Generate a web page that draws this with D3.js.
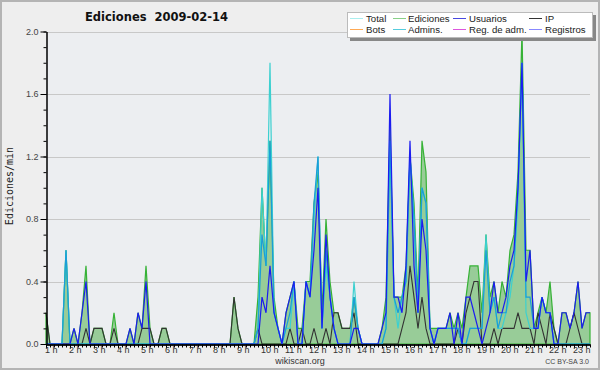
<!DOCTYPE html>
<html lang="es">
<head>
<meta charset="UTF-8">
<title>Ediciones 2009-02-14</title>
<script src="https://cdn.jsdelivr.net/npm/d3@7"></script>
<style>
	body { margin:0; background:#fff; }
	svg { display:block; }
</style>
</head>
<body>
<svg width="600" height="370"></svg>
<script>
// etiquetas de horas (una cada 6 puntos de 10 min)
var horas = ["1 h","2 h","3 h","4 h","5 h","6 h","7 h","8 h","9 h","10 h","11 h","12 h",
	"13 h","14 h","15 h","16 h","17 h","18 h","19 h","20 h","21 h","22 h","23 h"];
var yTicks = [0, 0.4, 0.8, 1.2, 1.6, 2.0];

// ediciones/min cada 10 minutos
var ediciones = [
	.2,0,0,0,0,.6,0,.1,0,.2,.5,0,
	.1,.1,.1,0,0,.2,0,0,0,.1,0,.2,
	.1,.5,.1,0,0,.1,.1,0,0,0,0,0,
	0,0,0,0,0,0,0,0,0,0,0,.3,
	.1,0,0,0,0,.3,1.0,.5,1.3,.3,.1,0,
	.2,.3,.4,.1,.1,.4,.4,.9,1.1,.2,.8,.4,
	.2,.2,.1,.1,.1,.3,.1,0,0,0,0,0,
	.1,.3,1.4,.3,.3,.3,.5,1.2,.9,.3,1.3,1.1,
	.1,.1,.1,.1,.1,.2,.1,.2,.1,.3,.5,.5,
	.5,.2,.7,.3,.4,.2,.4,.3,.6,.7,1.1,2.0,
	.6,.6,.1,.2,.3,.2,.4,.1,0,.2,.2,.1,
	.2,.4,.1,.2,.2
];
var total = [
	0,0,0,0,0,.6,0,0,0,0,0,0,
	0,0,0,0,0,0,0,0,0,0,0,0,
	0,0,0,0,0,0,0,0,0,0,0,0,
	0,0,0,0,0,0,0,0,0,0,0,0,
	0,0,0,0,0,.1,1.0,.5,1.8,.2,.1,0,
	.1,.1,.4,0,0,.4,.3,.8,1.2,.1,.5,.3,
	.1,0,0,0,0,.4,.1,0,0,0,0,0,
	0,.1,1.3,.3,.1,.3,.4,1.2,.8,.2,1.0,.9,
	.1,0,.1,.1,.1,.1,.1,.1,0,0,.1,.1,
	.1,.1,.7,.2,.3,.1,.1,.2,.3,.5,.9,1.8,
	.2,.1,.1,.1,.3,.2,.2,0,0,0,0,0,
	0,0,0,0,0
];
var admins = [
	0,0,0,0,0,.6,0,0,0,0,0,0,
	0,0,0,0,0,0,0,0,0,0,0,0,
	0,0,0,0,0,0,0,0,0,0,0,0,
	0,0,0,0,0,0,0,0,0,0,0,0,
	0,0,0,0,0,.1,.7,.5,1.3,.2,.1,0,
	.1,.2,.4,0,0,.4,.3,.9,1.2,.1,.6,.3,
	.1,0,0,0,0,.3,.1,0,0,0,0,0,
	0,.1,1.3,.3,.2,.3,.4,1.2,.8,.2,1.0,.9,
	.1,0,.1,.1,.1,.1,.1,.1,0,0,.1,.1,
	.1,.1,.6,.2,.3,.1,.2,.2,.4,.5,1.0,1.8,
	.3,.3,.1,.1,.3,.2,.2,0,0,0,0,0,
	0,0,0,0,0
];
var usuarios = [
	0,0,0,0,0,0,0,.1,0,.2,.4,0,
	0,0,0,0,0,0,0,0,0,.1,0,.2,
	.1,.4,0,0,0,0,0,0,0,0,0,0,
	0,0,0,0,0,0,0,0,0,0,0,0,
	0,0,0,0,0,0,.3,.2,.5,.2,.1,0,
	.2,.3,.4,0,0,.4,.3,.6,1.0,.1,.7,.3,
	.1,0,0,0,0,.1,.1,0,0,0,0,0,
	.1,.2,1.6,.3,.3,.2,.5,1.3,.5,.2,.8,.6,
	.1,0,.1,.1,.1,.2,0,.2,0,.3,.3,.2,
	.1,0,.1,.2,.4,.2,.2,.3,.5,.6,1.0,1.8,
	.4,.6,.1,.1,.3,.2,.2,0,0,.2,.2,.1,
	.2,.4,.1,.2,.2
];
var ip = [
	.2,0,0,0,0,0,0,0,0,0,.1,0,
	.1,.1,.1,0,0,.1,0,0,0,0,0,0,
	.1,.1,.1,0,0,.1,.1,0,0,0,0,0,
	0,0,0,0,0,0,0,0,0,0,0,.3,
	.1,0,0,0,0,.1,0,0,0,0,0,0,
	0,.1,0,0,.1,0,0,.1,0,0,.1,0,
	.2,.2,.1,.1,.1,.2,0,0,0,0,0,0,
	0,0,0,0,0,.1,.2,.5,.3,.1,.3,.1,
	0,0,0,0,0,0,0,.1,0,.2,.3,.4,
	.4,0,0,0,.1,0,.1,.1,.1,.1,.2,.1,
	.1,.1,0,.2,.1,0,.2,.1,0,0,0,.1,
	.2,.1,0,0,0
];

var leyenda = ["Total","Ediciones","Usuarios","IP","Bots","Admins.","Reg. de adm.","Registros"];
var leyendaColores = ["#aaeeee","#88d088","#4848e0","#333333","#ffaa55","#55ccdd","#dd55dd","#8888ff"];

var svg = d3.select("svg");

// fondo y marco
svg.append("rect").attr("width",600).attr("height",370).attr("fill","#eeeeee");
svg.append("rect").attr("x",1).attr("y",1).attr("width",598).attr("height",368)
	.attr("fill","none").attr("stroke","#b4b4b4").attr("stroke-width",2);

var x = d3.scaleLinear().domain([0, ediciones.length - 1]).range([46, 590]);
var y = d3.scaleLinear().domain([0, 2]).range([344, 31.5]);

svg.append("rect").attr("x",46).attr("y",31.5).attr("width",544).attr("height",312.5).attr("fill","#eceef1");

// rejilla
svg.append("g").selectAll("line").data(yTicks.slice(1)).enter().append("line")
	.attr("x1",46).attr("x2",590)
	.attr("y1",function(d){ return Math.round(y(d)) + 0.5; })
	.attr("y2",function(d){ return Math.round(y(d)) + 0.5; })
	.attr("stroke","#c8c8c8").attr("stroke-width",1);

// area de ediciones
var area = d3.area()
	.x(function(d,i){ return x(i); })
	.y0(y(0))
	.y1(function(d){ return y(d); });
svg.append("path").datum(ediciones).attr("d",area)
	.attr("fill","#98cc98").attr("stroke","#36b236").attr("stroke-width",1.2);

var line = d3.line()
	.x(function(d,i){ return x(i); })
	.y(function(d){ return y(d); });

svg.append("path").datum(ip).attr("d",line).attr("fill","none").attr("stroke","#333333").attr("stroke-width",1.1);
svg.append("path").datum(total).attr("d",line).attr("fill","none").attr("stroke","#3cd0d0").attr("stroke-width",1.2);
svg.append("path").datum(admins).attr("d",line).attr("fill","none").attr("stroke","#1a9ed8").attr("stroke-width",1.2);
svg.append("path").datum(usuarios).attr("d",line).attr("fill","none").attr("stroke","#1c1cf0").attr("stroke-width",1.2);

// ejes
var yMinor = svg.append("g").attr("transform","translate(46.5,0)")
	.call(d3.axisLeft(y).tickValues(d3.range(0, 2.05, 0.1)).tickSize(3).tickSizeOuter(0).tickFormat(""));
var yAxis = svg.append("g").attr("transform","translate(46.5,0)")
	.call(d3.axisLeft(y).tickValues(yTicks).tickSize(6).tickSizeOuter(0).tickPadding(2).tickFormat(d3.format(".1f")));
var xMinor = svg.append("g").attr("transform","translate(0,344.5)")
	.call(d3.axisBottom(x).tickValues(d3.range(0, ediciones.length)).tickSize(3).tickSizeOuter(0).tickFormat(""));
var xAxis = svg.append("g").attr("transform","translate(0,344.5)")
	.call(d3.axisBottom(x).tickValues(horas.map(function(h,i){ return i * 6; }))
		.tickSize(4).tickSizeOuter(0).tickFormat(function(d,i){ return horas[i]; }));

[yMinor, yAxis, xMinor, xAxis].forEach(function(g){
	g.selectAll("path,line").attr("stroke","#000");
});
xAxis.select(".domain").attr("stroke-width",1.6);
yAxis.selectAll("text").attr("font-family","Liberation Sans, Arial, sans-serif").attr("font-size",9).attr("fill","#444");
xAxis.selectAll("text").attr("font-family","Liberation Sans, Arial, sans-serif").attr("font-size",9).attr("fill","#333")
	.attr("text-anchor","start").attr("x",-1.5).attr("y",2).attr("dy","0.71em");

// titulo y textos
svg.append("text").attr("x",85).attr("y",21).text("Ediciones  2009-02-14")
	.attr("font-family","DejaVu Sans, sans-serif").attr("font-weight","bold").attr("font-size",11.5)
	.attr("fill","#111").style("white-space","pre");
svg.append("text").attr("transform","translate(13,186) rotate(-90)").attr("text-anchor","middle")
	.text("Ediciones/min").attr("font-family","DejaVu Sans Mono, monospace").attr("font-size",10).attr("fill","#222");
svg.append("text").attr("x",300).attr("y",364).attr("text-anchor","middle").text("wikiscan.org")
	.attr("font-family","Liberation Sans, Arial, sans-serif").attr("font-size",9).attr("fill","#333");
svg.append("text").attr("x",589).attr("y",364).attr("text-anchor","end").text("CC BY-SA 3.0")
	.attr("font-family","Liberation Sans, Arial, sans-serif").attr("font-size",7).attr("fill","#444");

// leyenda
var lg = svg.append("g");
lg.append("rect").attr("x",350).attr("y",15).attr("width",246).attr("height",26).attr("fill","#888");
lg.append("rect").attr("x",347.5).attr("y",12.5).attr("width",245).attr("height",25)
	.attr("fill","#fff").attr("stroke","#bbb").attr("stroke-width",1);
var colX = [350, 393, 453, 529];
var textX = [366, 408, 469, 545];
var item = lg.selectAll("g.item").data(leyenda).enter().append("g").attr("class","item");
item.append("line")
	.attr("x1",function(d,i){ return colX[i % 4]; })
	.attr("x2",function(d,i){ return colX[i % 4] + 13; })
	.attr("y1",function(d,i){ return i < 4 ? 18.5 : 29.5; })
	.attr("y2",function(d,i){ return i < 4 ? 18.5 : 29.5; })
	.attr("stroke",function(d,i){ return leyendaColores[i]; }).attr("stroke-width",1);
item.append("text")
	.attr("x",function(d,i){ return textX[i % 4]; })
	.attr("y",function(d,i){ return i < 4 ? 22.3 : 33; })
	.text(function(d){ return d; })
	.attr("font-family","Liberation Sans, Arial, sans-serif").attr("font-size",9.6).attr("fill","#222");
</script>
</body>
</html>
